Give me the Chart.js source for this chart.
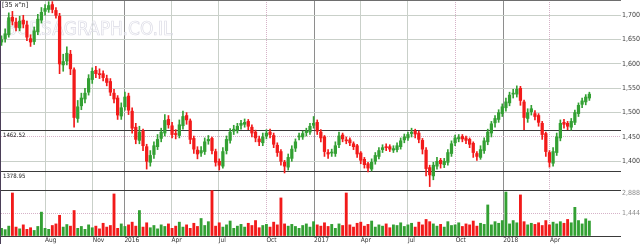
<!DOCTYPE html>
<html><head><meta charset="utf-8">
<script src="https://cdn.jsdelivr.net/npm/chart.js@4/dist/chart.umd.min.js"></script>
<style>html,body{margin:0;padding:0;background:#fff}#wrap{width:640px;height:244px;position:relative}</style>
</head><body><div id="wrap"><canvas id="c" width="640" height="244"></canvas></div>
<script>
// ---- data (weekly candles) ----
const startDate = '2015-05-09';
const open = [1645,1652,1660,1696,1686,1674,1690,1680,1652,1646,
1666,1690,1708,1712,1722,1710,1698,1598,1606,1620,
1588,1488,1514,1528,1542,1568,1587,1579,1580,1570,
1564,1540,1530,1493,1512,1534,1503,1470,1443,1462,
1430,1398,1414,1430,1447,1458,1486,1473,1457,1453,
1473,1494,1483,1447,1423,1417,1420,1442,1447,1420,
1400,1390,1422,1443,1462,1464,1474,1476,1482,1470,
1460,1446,1438,1452,1460,1453,1433,1420,1398,1388,
1406,1427,1450,1450,1459,1460,1474,1480,1460,
1450,1418,1417,1416,1434,1454,1444,1444,1436,1432,
1417,1404,1395,1384,1400,1410,1424,1430,1430,1423,
1424,1430,1444,1448,1457,1462,1458,1443,1423,1387,
1370,1390,1402,1393,1398,1416,1438,1446,1451,1448,
1445,1437,1416,1408,1422,1440,1458,1479,1486,1498,
1510,1520,1538,1538,1550,1522,1488,1502,1498,
1494,1478,1457,1418,1396,1418,1448,1480,1478,1470,
1480,1498,1517,1522,1530];
const high = [1658,1672,1705,1708,1694,1698,1700,1688,1660,1676,
1702,1716,1722,1728,1728,1716,1704,1620,1635,1628,
1592,1525,1540,1550,1578,1592,1595,1590,1586,1577,
1570,1548,1535,1520,1542,1540,1510,1478,1472,1466,
1435,1422,1440,1455,1468,1496,1494,1480,1465,1485,
1503,1500,1487,1452,1430,1430,1448,1453,1450,1425,
1405,1428,1452,1467,1474,1478,1484,1487,1486,1475,
1464,1452,1458,1465,1466,1458,1438,1424,1402,1415,
1432,1446,1458,1462,1468,1478,1492,1485,1465,
1453,1424,1425,1440,1460,1458,1450,1448,1440,1435,
1420,1408,1398,1405,1418,1428,1434,1436,1434,1432,
1438,1448,1456,1460,1468,1466,1462,1447,1428,1392,
1398,1408,1406,1406,1424,1442,1454,1455,1455,1452,
1448,1440,1420,1432,1448,1466,1482,1494,1506,1518,
1530,1542,1548,1555,1554,1526,1508,1515,1504,
1498,1482,1460,1422,1428,1458,1485,1486,1482,1488,
1505,1520,1530,1537,1542];
const low = [1638,1645,1655,1680,1668,1668,1674,1648,1636,1640,
1660,1684,1700,1706,1705,1694,1580,1585,1598,1578,
1470,1480,1506,1520,1536,1560,1572,1570,1565,1555,
1535,1520,1486,1486,1505,1496,1458,1436,1436,1422,
1384,1390,1406,1424,1440,1452,1468,1448,1446,1448,
1466,1476,1436,1416,1405,1410,1414,1435,1415,1390,
1382,1386,1415,1437,1455,1458,1466,1470,1465,1450,
1440,1432,1432,1446,1448,1428,1410,1392,1376,1382,
1400,1420,1444,1445,1452,1455,1468,1455,1440,
1410,1406,1410,1410,1428,1440,1436,1432,1424,1408,
1395,1386,1378,1380,1394,1405,1418,1422,1420,1418,
1419,1425,1438,1443,1450,1448,1438,1415,1370,1348,
1362,1384,1386,1387,1392,1410,1432,1440,1440,1436,
1428,1408,1402,1404,1416,1434,1450,1470,1480,1492,
1503,1514,1530,1532,1515,1465,1480,1495,1485,
1472,1445,1410,1388,1390,1412,1442,1468,1465,1464,
1475,1492,1510,1516,1525];
const close = [1650,1662,1695,1688,1675,1688,1682,1655,1645,1668,
1692,1706,1714,1720,1712,1700,1600,1605,1622,1590,
1490,1512,1530,1540,1570,1585,1580,1578,1572,1562,
1542,1528,1495,1510,1532,1505,1468,1445,1460,1432,
1400,1412,1432,1445,1460,1484,1475,1455,1455,1475,
1492,1485,1445,1425,1415,1422,1440,1445,1422,1398,
1392,1420,1445,1460,1466,1472,1478,1480,1472,1458,
1448,1440,1450,1458,1455,1435,1418,1400,1390,1408,
1425,1440,1452,1457,1462,1472,1478,1462,1448,
1420,1415,1418,1432,1452,1446,1442,1438,1430,1415,
1402,1393,1386,1398,1412,1422,1428,1428,1425,1426,
1432,1442,1450,1455,1460,1456,1445,1425,1385,1372,
1392,1400,1395,1400,1418,1436,1448,1449,1446,1443,
1435,1418,1410,1424,1442,1460,1477,1488,1500,1512,
1522,1536,1540,1548,1525,1490,1500,1508,1492,
1480,1455,1420,1398,1420,1450,1478,1476,1472,1482,
1500,1515,1524,1532,1538];
const volume = [480,400,620,2700,560,450,700,420,520,350,
600,1500,480,420,660,760,1300,560,720,620,
1600,480,600,420,700,520,620,450,800,560,
660,2640,480,760,600,700,870,620,1600,560,
830,520,660,450,700,600,760,480,620,870,
560,700,480,800,600,1100,660,900,2850,620,
830,560,700,940,480,620,730,560,800,660,
970,520,660,730,560,870,700,2390,760,620,
730,600,480,660,760,560,900,700,620,
830,600,730,480,760,660,2700,700,560,800,
870,620,730,940,560,700,620,760,520,700,
660,830,600,700,800,560,870,700,1040,900,
760,620,730,560,900,660,700,830,600,760,
700,940,620,800,730,1950,700,900,800,970,
2760,760,970,830,2580,900,700,800,730,
830,660,970,700,870,760,900,800,1040,830,
1800,970,760,1080,940];
const tickDates = ['2015-08-01','2015-11-01','2016-01-01','2016-04-01','2016-07-01','2016-10-01',
                   '2017-01-01','2017-04-01','2017-07-01','2017-10-01','2018-01-01','2018-04-01'];
const tickLabels = ['Aug','Nov','2016','Apr','Jul','Oct','2017','Apr','Jul','Oct','2018','Apr'];
const dottedTickDates = ['2016-10-01','2017-10-01','2018-04-01'];
const priceTicks = [1400,1450,1500,1550,1600,1650,1700];
const refLevels = [1462.52, 1378.95];
const volTicks = [0,1444,2888];
const titleText = '[35 ת"א]';
const watermark = 'BURSAGRAPH.CO.IL';

// ---- helpers ----
const DAY0 = Date.parse('2016-01-01T00:00:00Z');
const dayNum = s => (Date.parse(s + 'T00:00:00Z') - DAY0) / 864e5;
const x0 = dayNum(startDate);
const xs = close.map((_, i) => x0 + 7 * i);
const UP = '#33a033', DOWN = '#f21a1a';
const dir = close.map((c, i) => c >= open[i] ? UP : DOWN);
const FONT = "'Liberation Sans Narrow','DejaVu Sans Condensed','Liberation Sans',sans-serif";
const GRID = '#c9d0c9', DOT = '#d6b2c8', DARK = '#3a3a3a';

const decor = {
  id: 'decor',
  beforeDatasetsDraw(chart) {
    const {ctx, chartArea: a} = chart;
    ctx.save();
    ctx.font = "19px " + FONT;
    ctx.strokeStyle = '#dcdce6';
    ctx.lineWidth = 0.7;
    ctx.textBaseline = 'alphabetic';
    ctx.strokeText(watermark, a.left + 4, 35);
    ctx.restore();
  },
  afterDraw(chart) {
    const {ctx, chartArea: a, scales} = chart;
    ctx.save();
    ctx.fillStyle = '#4b3f58'; ctx.fillRect(0, 0, 1, 244);
    ctx.fillStyle = '#6e6e6e'; ctx.fillRect(0, 0, a.right, 1);
    ctx.fillStyle = '#222';
    ctx.textBaseline = 'top';
    ctx.font = "7px " + FONT;
    ctx.fillText(titleText, 2, 1.5);
    ctx.font = "6px " + FONT;
    refLevels.forEach(v => ctx.fillText(v.toFixed(2), 3, scales.y.getPixelForValue(v) + 1.5));
    ctx.fillStyle = '#8c8c8c';
    ctx.textBaseline = 'middle';
    ctx.font = "7px " + FONT;
    volTicks.slice(1).forEach(v => ctx.fillText(v.toLocaleString('en-US'), a.right + 1,
      scales.yv.getPixelForValue(v) + (v === volTicks[2] ? 3 : 0)));
    ctx.restore();
  }
};

new Chart(document.getElementById('c'), {
  type: 'bar',
  data: {
    datasets: [
      { label: 'body', order: 0, yAxisID: 'y', grouped: false, barThickness: 2.6, minBarLength: 1,
        data: xs.map((x, i) => ({x, y: [open[i], close[i]]})), backgroundColor: dir },
      { label: 'wick', order: 1, yAxisID: 'y', grouped: false, barThickness: 1,
        data: xs.map((x, i) => ({x, y: [low[i], high[i]]})), backgroundColor: dir },
      { label: 'volume', order: 2, yAxisID: 'yv', grouped: false, barThickness: 2.2,
        data: xs.map((x, i) => ({x, y: volume[i]})), backgroundColor: dir }
    ]
  },
  options: {
    responsive: false, animation: false, events: [],
    layout: { padding: { left: 1, top: 0, right: 0, bottom: 0 } },
    plugins: { legend: { display: false }, tooltip: { enabled: false } },
    scales: {
      x: {
        type: 'linear', position: 'bottom', min: -238, max: 958, offset: false,
        afterBuildTicks: s => { s.ticks = tickDates.map(d => ({value: dayNum(d)})); },
        afterFit: s => { s.height = 8; s.paddingLeft = 0; s.paddingRight = 0; },
        ticks: { callback: (v, i) => tickLabels[i], align: 'start', padding: 0, autoSkip: false,
                 maxRotation: 0, color: '#333', font: { family: FONT, size: 6.5 } },
        grid: { offset: false, drawTicks: false,
                color: c => { if (!c.tick) return GRID; const i = c.index;
                  if (/^\d{4}$/.test(tickLabels[i])) return '#8e8e8e';
                  if (dottedTickDates.includes(tickDates[i])) return DOT; return GRID; } },
        border: { display: false,
                  dash: c => (c.tick && dottedTickDates.includes(tickDates[c.index])) ? [1, 1] : [] }
      },
      y: {
        type: 'linear', position: 'right', min: 1246.5, max: 1731.4,
        afterBuildTicks: s => { s.ticks = [...priceTicks, ...refLevels].sort((a, b) => a - b).map(v => ({value: v})); },
        afterFit: s => { s.width = 19; s.paddingTop = 0; s.paddingBottom = 0; },
        ticks: { callback: v => refLevels.includes(v) ? '' : v.toLocaleString('en-US'),
                 padding: 1, color: '#404040', font: { family: FONT, size: 7 } },
        grid: { drawTicks: false,
                color: c => { if (!c.tick) return GRID; const v = c.tick.value;
                  if (refLevels.includes(v)) return DARK; if (v === 1450) return DOT; return GRID; } },
        border: { display: false, dash: c => (c.tick && c.tick.value === 1450) ? [1, 1] : [] }
      },
      yv: {
        type: 'linear', position: 'right', min: 0, max: 14817,
        afterBuildTicks: s => { s.ticks = volTicks.map(v => ({value: v})); },
        afterFit: s => { s.width = 0; s.paddingTop = 0; s.paddingBottom = 0; },
        ticks: { display: false },
        grid: { drawTicks: false,
                color: c => (c.tick && c.tick.value === volTicks[1]) ? DOT : DARK },
        border: { display: false, dash: c => (c.tick && c.tick.value === volTicks[1]) ? [1, 1] : [] }
      }
    }
  },
  plugins: [decor]
});
</script>
</body></html>
